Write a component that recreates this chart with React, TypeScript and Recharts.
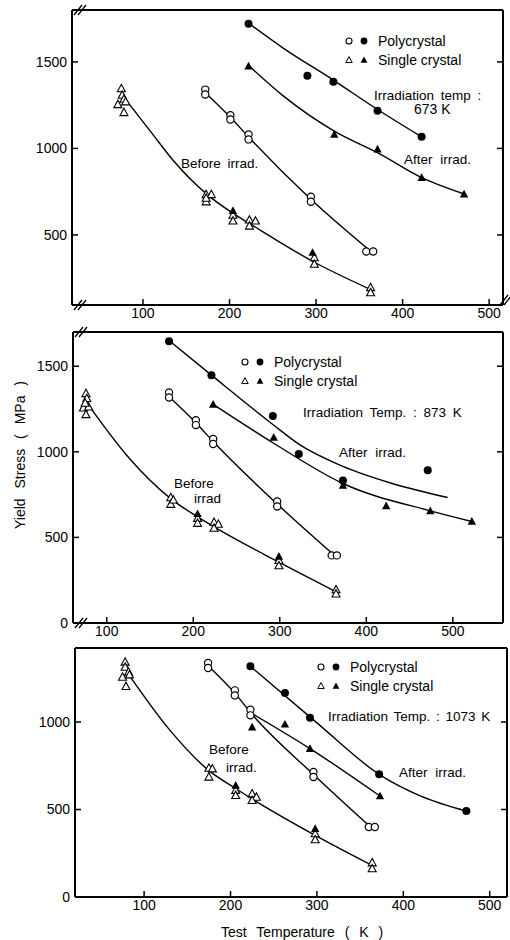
import React from 'react';
import { ComposedChart, Line, Scatter, XAxis, YAxis } from 'recharts';

type Pt = { x: number; y: number };
const pts = (arr: number[][]): Pt[] => arr.map(([x, y]) => ({ x, y }));

const FONT = '"Liberation Sans", Arial, sans-serif';
const xTicks = [100, 200, 300, 400, 500];

// ---- 673 K ----
const p1BeforePoly = pts([[172, 1340], [172, 1312], [201, 1192], [201, 1167], [222, 1081], [222, 1052], [294, 721], [294, 692], [358, 404], [366, 404]]);
const p1BeforeSingle = pts([[75, 1346], [76, 1308], [71, 1254], [78, 1285], [80, 1270], [78, 1208], [173, 734], [173, 692], [179, 734], [173, 713], [204, 615], [204, 581], [223, 587], [230, 581], [223, 552], [298, 369], [298, 331], [363, 196], [363, 167]]);
const p1BeforeSingleFilled = pts([[204, 640], [296, 398]]);
const p1AfterPoly = pts([[222, 1720], [290, 1420], [320, 1385], [371, 1217], [422, 1067]]);
const p1AfterSingle = pts([[222, 1475], [321, 1081], [371, 996], [422, 831], [471, 735]]);
const p1Curves = [
  pts([[82, 1270], [110, 1090], [135, 930], [175, 730], [205, 622], [225, 560], [297, 345], [365, 180]]),
  pts([[172, 1322], [201, 1180], [222, 1066], [294, 706], [362, 410]]),
  pts([[223, 1720], [262, 1580], [320, 1395], [371, 1225], [422, 1067]]),
  pts([[223, 1475], [261, 1308], [321, 1100], [371, 975], [422, 831], [472, 735]]),
];

// ---- 873 K ----
const p2BeforePoly = pts([[172, 1347], [172, 1317], [203, 1185], [203, 1156], [223, 1075], [223, 1046], [297, 710], [297, 681], [360, 395], [366, 395]]);
const p2BeforeSingle = pts([[76, 1341], [77, 1312], [73, 1257], [79, 1263], [76, 1218], [75, 1285], [174, 733], [174, 694], [177, 719], [205, 612], [205, 583], [224, 589], [229, 578], [224, 554], [299, 366], [299, 335], [365, 195], [365, 170]]);
const p2BeforeSingleFilled = pts([[205, 638], [299, 389]]);
const p2AfterPoly = pts([[172, 1646], [221, 1448], [292, 1209], [322, 987], [373, 832], [471, 892]]);
const p2AfterSingle = pts([[223, 1277], [293, 1084], [373, 803], [423, 684], [474, 655], [522, 593]]);
const p2Curves = [
  pts([[80, 1265], [123, 980], [175, 722], [205, 620], [224, 562], [299, 355], [365, 182]]),
  pts([[172, 1322], [203, 1170], [223, 1060], [297, 695], [362, 400]]),
  pts([[172, 1650], [221, 1448], [292, 1160], [322, 1045], [373, 915], [430, 815], [494, 733]]),
  pts([[223, 1277], [293, 1050], [373, 815], [474, 655], [522, 593]]),
];

// ---- 1073 K ----
const p3BeforePoly = pts([[174, 1337], [174, 1309], [205, 1181], [205, 1152], [223, 1070], [223, 1038], [296, 714], [296, 686], [360, 400], [367, 400]]);
const p3BeforeSingle = pts([[78, 1343], [78, 1314], [75, 1257], [82, 1286], [83, 1270], [79, 1204], [175, 737], [175, 686], [179, 733], [206, 610], [206, 581], [225, 590], [230, 571], [225, 552], [298, 362], [298, 328], [364, 196], [364, 162]]);
const p3BeforeSingleFilled = pts([[206, 638], [298, 390]]);
const p3AfterPoly = pts([[223, 1318], [263, 1166], [292, 1025], [372, 701], [473, 491]]);
const p3AfterSingle = pts([[225, 971], [263, 987], [292, 848], [373, 577]]);
const p3Curves = [
  pts([[83, 1265], [130, 952], [175, 722], [206, 620], [225, 560], [298, 352], [364, 180]]),
  pts([[174, 1322], [205, 1165], [223, 1055], [296, 700], [362, 400]]),
  pts([[223, 1318], [300, 995], [372, 701], [421, 575], [473, 491]]),
  pts([[224, 1051], [292, 848], [373, 577]]),
];

const OpenCircle = (p: any) => <circle cx={p.cx} cy={p.cy} r={3.6} fill="#fff" stroke="#000" strokeWidth={1.2} />;
const FilledCircle = (p: any) => <circle cx={p.cx} cy={p.cy} r={4} fill="#000" />;
const triPath = (cx: number, cy: number, s: number) =>
  `M${cx},${cy - s} L${cx + s * 0.95},${cy + s * 0.75} L${cx - s * 0.95},${cy + s * 0.75} Z`;
const OpenTri = (p: any) => <path d={triPath(p.cx, p.cy, 4.2)} fill="#fff" stroke="#000" strokeWidth={1.1} />;
const FilledTri = (p: any) => <path d={triPath(p.cx, p.cy, 4.4)} fill="#000" />;

interface PanelProps {
  top: number;
  height: number;
  margin: { top: number; right: number; left: number; bottom: number };
  leftWidth: number;
  xDomain: [number, number];
  yDomain: [number, number];
  yTicks: number[];
  curves: Pt[][];
  openCircles: Pt[];
  filledCircles: Pt[];
  openTris: Pt[];
  filledTris: Pt[];
}

const axisLine = { stroke: '#000', strokeWidth: 2 };
const tickLine = { stroke: '#000', strokeWidth: 1.5 };
const tickText = { fill: '#000', fontSize: 14, fontFamily: FONT };

const Panel: React.FC<PanelProps> = (props) => {
  const { xDomain, yDomain, yTicks } = props;
  return (
    <div style={{ position: 'absolute', left: 0, top: props.top }}>
      <ComposedChart width={510} height={props.height} margin={props.margin}>
        <XAxis xAxisId="b" type="number" dataKey="x" domain={xDomain} ticks={xTicks} interval={0}
          allowDataOverflow height={25} axisLine={axisLine} tickLine={tickLine} tickSize={-6} tickMargin={9} tick={tickText} />
        <XAxis xAxisId="t" orientation="top" type="number" domain={xDomain} ticks={xTicks} interval={0}
          allowDataOverflow height={1} axisLine={axisLine} tickLine={tickLine} tickSize={-6} tickFormatter={() => ''} />
        <YAxis yAxisId="l" type="number" dataKey="y" domain={yDomain} ticks={yTicks} interval={0}
          allowDataOverflow width={props.leftWidth} axisLine={axisLine} tickLine={tickLine} tickSize={-6} tickMargin={11} tick={tickText} />
        <YAxis yAxisId="r" orientation="right" type="number" domain={yDomain} ticks={yTicks} interval={0}
          allowDataOverflow width={1} axisLine={axisLine} tickLine={tickLine} tickSize={-6} tickFormatter={() => ''} />
        {props.curves.map((c, i) => (
          <Line key={i} xAxisId="b" yAxisId="l" data={c} dataKey="y" type="monotone" stroke="#000"
            strokeWidth={1.4} dot={false} activeDot={false} isAnimationActive={false} />
        ))}
        <Scatter xAxisId="b" yAxisId="l" data={props.openTris} shape={OpenTri} isAnimationActive={false} />
        <Scatter xAxisId="b" yAxisId="l" data={props.filledTris} shape={FilledTri} isAnimationActive={false} />
        <Scatter xAxisId="b" yAxisId="l" data={props.openCircles} shape={OpenCircle} isAnimationActive={false} />
        <Scatter xAxisId="b" yAxisId="l" data={props.filledCircles} shape={FilledCircle} isAnimationActive={false} />
      </ComposedChart>
    </div>
  );
};

const LegendBlock: React.FC<{ x: number; y: number }> = ({ x, y }) => (
  <g>
    <circle cx={x} cy={y} r={3} fill="#fff" stroke="#000" strokeWidth={1.1} />
    <circle cx={x + 15} cy={y} r={3.4} fill="#000" />
    <text x={x + 29} y={y} dominantBaseline="central" fontSize={14}>Polycrystal</text>
    <path d={triPath(x, y + 19, 3.4)} fill="#fff" stroke="#000" strokeWidth={1} />
    <path d={triPath(x + 15, y + 19, 3.6)} fill="#000" />
    <text x={x + 29} y={y + 19} dominantBaseline="central" fontSize={14}>Single crystal</text>
  </g>
);

const Break: React.FC<{ x: number; y: number }> = ({ x, y }) => (
  <g>
    <path d={`M${x - 4},${y + 5} L${x + 4},${y - 5}`} stroke="#000" strokeWidth={1.3} />
    <path d={`M${x},${y + 5} L${x + 8},${y - 5}`} stroke="#000" strokeWidth={1.3} />
  </g>
);

const App: React.FC = () => {
  return (
    <div style={{ position: 'absolute', left: 0, top: 0, width: 510, height: 940, background: '#fff', fontFamily: FONT }}>
      <Panel top={0} height={330} margin={{ top: 9, right: 6, left: 0, bottom: 0 }} leftWidth={72}
        xDomain={[18, 516]} yDomain={[95, 1800]} yTicks={[500, 1000, 1500]} curves={p1Curves}
        openCircles={p1BeforePoly} filledCircles={p1AfterPoly} openTris={p1BeforeSingle}
        filledTris={[...p1AfterSingle, ...p1BeforeSingleFilled]} />
      <Panel top={310} height={338} margin={{ top: 21, right: 6, left: 0, bottom: 0 }} leftWidth={73}
        xDomain={[61, 558]} yDomain={[0, 1700]} yTicks={[0, 500, 1000, 1500]} curves={p2Curves}
        openCircles={p2BeforePoly} filledCircles={p2AfterPoly} openTris={p2BeforeSingle}
        filledTris={[...p2AfterSingle, ...p2BeforeSingleFilled]} />
      <Panel top={630} height={292} margin={{ top: 17, right: 2, left: 0, bottom: 0 }} leftWidth={75}
        xDomain={[20, 520]} yDomain={[0, 1423]} yTicks={[0, 500, 1000]} curves={p3Curves}
        openCircles={p3BeforePoly} filledCircles={p3AfterPoly} openTris={p3BeforeSingle}
        filledTris={[...p3AfterSingle, ...p3BeforeSingleFilled]} />
      <svg width={510} height={940} style={{ position: 'absolute', left: 0, top: 0, pointerEvents: 'none' }}
        fontFamily={FONT} fill="#000">
        <LegendBlock x={349} y={41} />
        <text x={374} y={95} dominantBaseline="central" fontSize={13.5} wordSpacing={3}>Irradiation temp :</text>
        <text x={414} y={109} dominantBaseline="central" fontSize={14}>673 K</text>
        <text x={404} y={159} dominantBaseline="central" fontSize={13.5} wordSpacing={4}>After irrad.</text>
        <text x={181} y={163} dominantBaseline="central" fontSize={13.5} wordSpacing={3}>Before irrad.</text>

        <LegendBlock x={245} y={362} />
        <text x={303} y={412} dominantBaseline="central" fontSize={13.5} wordSpacing={3}>Irradiation Temp. : 873 K</text>
        <text x={339} y={452} dominantBaseline="central" fontSize={13.5} wordSpacing={4}>After irrad.</text>
        <text x={174} y={483} dominantBaseline="central" fontSize={13.5}>Before</text>
        <text x={194} y={498} dominantBaseline="central" fontSize={13.5}>irrad</text>

        <LegendBlock x={321} y={667} />
        <text x={328} y={716} dominantBaseline="central" fontSize={13.5} wordSpacing={2}>Irradiation Temp. : 1073 K</text>
        <text x={399} y={772} dominantBaseline="central" fontSize={13.5} wordSpacing={4}>After irrad.</text>
        <text x={209} y={749} dominantBaseline="central" fontSize={13.5}>Before</text>
        <text x={226} y={767} dominantBaseline="central" fontSize={13.5}>irrad.</text>

        <text x={20} y={455} transform="rotate(-90 20 455)" textAnchor="middle" dominantBaseline="central"
          fontSize={14} wordSpacing={6}>Yield Stress ( MPa )</text>
        <text x={302} y={932} textAnchor="middle" dominantBaseline="central" fontSize={14} wordSpacing={6}>Test Temperature ( K )</text>

        <Break x={78} y={10} />
        <Break x={78} y={305} />
        <Break x={504} y={300} />
        <Break x={79} y={332} />
        <Break x={79} y={623} />
      </svg>
    </div>
  );
};

export default App;
